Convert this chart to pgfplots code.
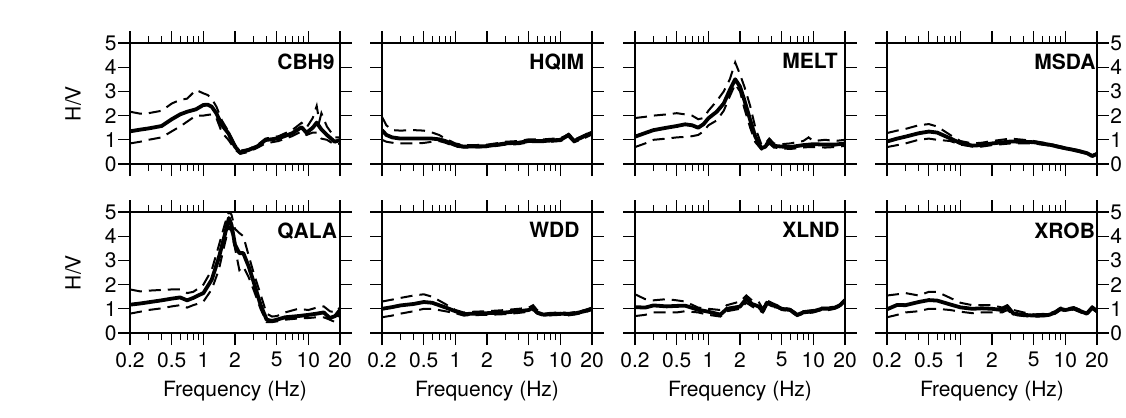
\documentclass[border=0pt]{standalone}
\usepackage{fontspec}
\setmainfont{TeX Gyre Heros}
\usepackage{pgfplots}
\pgfplotsset{compat=1.18}
\usepackage{pgfplotstable}

% H/V curves: f = frequency (Hz), m = mean, u = mean+sd, l = mean-sd
\pgfplotstableread{
f    m    u    l
0.2  1.35 2.16 0.85
0.25 1.42 2.08 0.92
0.3  1.47 2.10 1.00
0.4  1.57 2.20 1.10
0.5  1.85 2.50 1.35
0.6  2.05 2.65 1.55
0.7  2.16 2.70 1.75
0.85 2.26 3.06 2.00
1.0  2.44 2.92 2.00
1.1  2.45 2.85 2.03
1.2  2.37 2.70 2.05
1.33 2.09 2.37 1.90
1.5  1.61 1.80 1.30
1.73 1.27 1.35 1.00
2.0  0.72 0.80 0.60
2.24 0.47 0.55 0.42
2.7  0.58 0.62 0.50
3.3  0.74 0.80 0.68
3.9  0.99 1.05 0.85
5.2  1.06 1.15 0.95
7.0  1.27 1.40 1.15
8.6  1.52 1.70 1.35
9.6  1.29 1.50 1.20
11   1.50 1.90 1.30
12   1.71 2.40 1.30
12.7 1.55 1.75 1.15
13.3 1.43 2.10 1.05
15   1.20 1.55 1.00
17.8 0.92 1.10 0.80
20   0.99 1.10 0.85
}\cbh

\pgfplotstableread{
f    m    u    l
0.2  1.40 1.95 1.00
0.22 1.20 1.60 0.92
0.25 1.10 1.40 0.88
0.3  1.05 1.38 0.85
0.4  1.05 1.40 0.85
0.5  1.05 1.38 0.87
0.6  1.05 1.30 0.92
0.7  1.02 1.20 0.95
0.8  0.95 1.05 0.88
1.0  0.78 0.85 0.72
1.2  0.72 0.78 0.68
1.5  0.72 0.78 0.68
2.0  0.74 0.80 0.70
2.5  0.80 0.86 0.75
3.0  0.85 0.92 0.80
4.0  0.88 0.95 0.82
5.0  0.95 1.02 0.90
7.0  0.95 1.02 0.90
10   1.00 1.07 0.95
11   1.10 1.15 1.02
12   1.20 1.25 1.12
13.5 0.95 1.00 0.90
16   1.10 1.15 1.02
20   1.30 1.35 1.22
}\hqim

\pgfplotstableread{
f    m    u    l
0.2  1.13 1.90 0.70
0.25 1.28 1.95 0.85
0.3  1.40 2.00 1.00
0.4  1.50 2.05 1.05
0.5  1.57 2.10 1.10
0.6  1.64 2.05 1.12
0.7  1.60 2.00 1.15
0.8  1.50 1.85 1.20
0.9  1.65 1.90 1.35
1.0  1.89 2.20 1.60
1.2  2.16 2.60 1.80
1.4  2.50 3.00 2.20
1.6  3.06 3.50 2.80
1.8  3.50 4.20 3.30
2.0  3.20 3.70 3.00
2.2  2.64 3.20 2.30
2.5  1.82 2.40 1.50
2.8  1.13 1.50 0.90
3.2  0.65 0.80 0.60
3.5  0.72 0.85 0.65
3.8  0.99 1.05 0.85
4.2  0.75 0.85 0.68
5    0.72 0.82 0.65
6    0.70 0.85 0.62
8    0.78 0.95 0.68
9    0.80 1.10 0.70
10   0.82 0.95 0.70
13   0.80 1.00 0.68
16   0.80 0.95 0.70
20   0.85 1.00 0.75
}\melt

\pgfplotstableread{
f    m    u    l
0.2  0.93 1.28 0.70
0.25 1.05 1.38 0.78
0.3  1.13 1.45 0.85
0.4  1.27 1.60 1.00
0.5  1.34 1.65 1.05
0.6  1.30 1.55 1.00
0.8  1.06 1.20 0.95
1.0  0.86 0.95 0.80
1.3  0.76 0.85 0.72
1.6  0.78 0.88 0.72
2.0  0.85 0.95 0.78
3.0  0.93 1.05 0.85
4.0  0.92 1.00 0.85
5.0  0.90 0.95 0.85
7.0  0.80 0.84 0.76
10   0.65 0.68 0.62
13   0.55 0.58 0.52
16   0.45 0.48 0.42
18   0.33 0.36 0.30
20   0.42 0.45 0.39
}\msda

\pgfplotstableread{
f    m    u    l
0.2  1.17 1.80 0.80
0.25 1.22 1.72 0.88
0.3  1.27 1.75 0.95
0.4  1.35 1.78 1.02
0.5  1.42 1.80 1.10
0.6  1.47 1.80 1.15
0.7  1.35 1.65 1.05
0.8  1.45 1.70 1.15
0.9  1.56 1.85 1.22
1.0  1.65 2.00 1.30
1.2  2.20 2.60 1.80
1.4  3.10 3.60 2.60
1.6  4.06 4.50 3.70
1.75 4.75 5.00 4.40
1.85 4.48 4.90 4.20
2.0  3.65 4.30 3.50
2.2  3.30 4.13 2.60
2.4  3.30 4.00 2.75
2.7  2.75 3.20 2.30
3.0  2.13 2.50 1.80
3.5  1.17 1.60 1.00
4.0  0.55 0.80 0.45
4.5  0.50 0.68 0.45
5    0.55 0.70 0.48
6    0.65 0.85 0.55
8    0.70 1.00 0.60
10   0.75 0.95 0.62
12   0.80 1.05 0.65
14   0.85 1.10 0.65
16   0.62 0.90 0.55
18   0.70 0.85 0.45
20   0.95 1.05 0.85
}\qala

\pgfplotstableread{
f    m    u    l
0.2  1.00 1.30 0.65
0.25 1.07 1.38 0.72
0.3  1.14 1.45 0.80
0.4  1.20 1.55 0.90
0.5  1.28 1.60 1.00
0.6  1.25 1.50 1.00
0.8  1.06 1.20 0.90
1.0  0.90 0.95 0.82
1.2  0.78 0.85 0.72
1.5  0.80 0.88 0.74
2.0  0.82 0.90 0.75
3.0  0.85 0.95 0.78
4.0  0.90 1.00 0.83
5.0  0.95 1.05 0.88
5.5  1.05 1.15 0.95
6.0  0.85 0.95 0.80
7.0  0.75 0.80 0.70
8.0  0.78 0.83 0.73
10   0.80 0.85 0.75
12   0.78 0.83 0.73
14   0.82 0.87 0.77
17   0.90 0.95 0.85
20   1.00 1.05 0.95
}\wdd

\pgfplotstableread{
f    m    u    l
0.2  1.07 1.60 0.70
0.25 1.05 1.40 0.75
0.3  1.14 1.35 0.85
0.4  1.10 1.40 0.85
0.5  1.12 1.35 0.85
0.6  1.13 1.30 0.90
0.8  0.96 1.05 0.85
1.0  0.88 1.00 0.75
1.3  0.76 0.95 0.68
1.5  1.00 1.15 0.90
2.0  1.09 1.30 1.00
2.3  1.42 1.55 1.25
2.6  1.20 1.35 1.10
3.0  1.10 1.30 0.95
3.3  0.90 1.00 0.85
3.6  1.25 1.35 1.15
4.0  1.15 1.25 1.08
4.5  1.10 1.15 1.05
5.0  1.00 1.05 0.95
6.0  0.95 1.00 0.90
7.0  0.75 0.80 0.70
8.0  0.85 0.90 0.80
10   0.90 0.95 0.85
12   1.00 1.05 0.95
14   1.00 1.05 0.95
16   1.05 1.10 1.00
18   1.15 1.20 1.10
20   1.35 1.40 1.30
}\xlnd

\pgfplotstableread{
f    m    u    l
0.2  0.98 1.55 0.65
0.25 1.16 1.60 0.75
0.3  1.15 1.65 0.85
0.4  1.28 1.55 0.90
0.5  1.36 1.70 1.00
0.6  1.34 1.70 1.00
0.8  1.18 1.45 0.95
1.0  1.06 1.25 0.88
1.3  1.00 1.15 0.82
1.6  1.02 1.15 0.85
2.0  1.00 1.15 0.85
2.5  0.95 1.05 0.85
2.8  1.10 1.15 0.95
3.2  0.80 0.95 0.75
4.0  0.75 0.85 0.70
5.0  0.72 0.77 0.67
7.0  0.75 0.80 0.70
8.0  0.85 0.90 0.80
9.0  1.00 1.05 0.95
10   0.95 1.00 0.90
12   1.02 1.07 0.97
14   0.90 0.95 0.85
16   0.80 0.85 0.75
18   1.05 1.10 1.00
20   0.90 0.95 0.85
}\xrob

% one panel: #1 position and extra axis options, #2 table, #3 station name
\newcommand{\hvaxis}[3]{%
\begin{axis}[
    xmode=log,
    scale only axis, width=105pt, height=60.5pt,
    anchor=north west,
    xmin=0.2, xmax=20, ymin=0, ymax=5,
    axis line style={line width=1pt},
    xtick={0.2,0.5,1,2,5,10,20},
    minor xtick={0.3,0.4,0.6,0.7,0.8,0.9,3,4,6,7,8,9},
    xticklabels={},
    ytick={0,1,2,3,4,5},
    yticklabels={},
    tick align=outside,
    major tick length=6pt, minor tick length=3.5pt,
    tick style={line width=0.6pt, black},
    tick label style={font=\fontsize{10.5}{12}\selectfont, inner sep=0.5pt},
    xticklabel style={yshift=-3pt},
    label style={font=\fontsize{10.5}{12}\selectfont},
    xtick pos=both, ytick pos=both,
    #1]
  \addplot[black, line width=1pt, dash pattern=on 6pt off 3.5pt] table[x=f, y=u] {#2};
  \addplot[black, line width=1pt, dash pattern=on 6pt off 3.5pt] table[x=f, y=l] {#2};
  \addplot[black, line width=1.9pt, line join=round] table[x=f, y=m] {#2};
  \node[anchor=north west, inner sep=0pt, font=\bfseries\fontsize{10.5}{12}\selectfont]
    at (rel axis cs:0.7,0.917) {#3};
\end{axis}}

\begin{document}
\begin{tikzpicture}
\path[use as bounding box] (0,0) rectangle (563pt,-209pt);

\hvaxis{at={(65pt,-21.5pt)},
  yticklabels={0,1,2,3,4,5}, yticklabel pos=left, ytick pos=both,
  ylabel={H/V}, ylabel style={at={(axis description cs:-0.271,0.5)}, anchor=center}}{\cbh}{CBH9}
\hvaxis{at={(191pt,-21.5pt)}}{\hqim}{HQIM}
\hvaxis{at={(317.5pt,-21.5pt)}}{\melt}{MELT}
\hvaxis{at={(443.5pt,-21.5pt)},
  yticklabels={0,1,2,3,4,5}, yticklabel pos=right, ytick pos=both}{\msda}{MSDA}

\hvaxis{at={(65pt,-106pt)},
  yticklabels={0,1,2,3,4,5}, yticklabel pos=left, ytick pos=both,
  ylabel={H/V}, ylabel style={at={(axis description cs:-0.271,0.5)}, anchor=center},
  xticklabels={0.2,0.5,1,2,5,10,20}, xticklabel pos=lower, xtick pos=both,
  xlabel={Frequency (Hz)}, xlabel style={at={(axis description cs:0.5,-0.479)}, anchor=center}}{\qala}{QALA}
\hvaxis{at={(191pt,-106pt)},
  xticklabels={0.2,0.5,1,2,5,10,20}, xticklabel pos=lower, xtick pos=both,
  xlabel={Frequency (Hz)}, xlabel style={at={(axis description cs:0.5,-0.479)}, anchor=center}}{\wdd}{WDD}
\hvaxis{at={(317.5pt,-106pt)},
  xticklabels={0.2,0.5,1,2,5,10,20}, xticklabel pos=lower, xtick pos=both,
  xlabel={Frequency (Hz)}, xlabel style={at={(axis description cs:0.5,-0.479)}, anchor=center}}{\xlnd}{XLND}
\hvaxis{at={(443.5pt,-106pt)},
  yticklabels={0,1,2,3,4,5}, yticklabel pos=right, ytick pos=both,
  xticklabels={0.2,0.5,1,2,5,10,20}, xticklabel pos=lower, xtick pos=both,
  xlabel={Frequency (Hz)}, xlabel style={at={(axis description cs:0.5,-0.479)}, anchor=center}}{\xrob}{XROB}
\end{tikzpicture}
\end{document}
